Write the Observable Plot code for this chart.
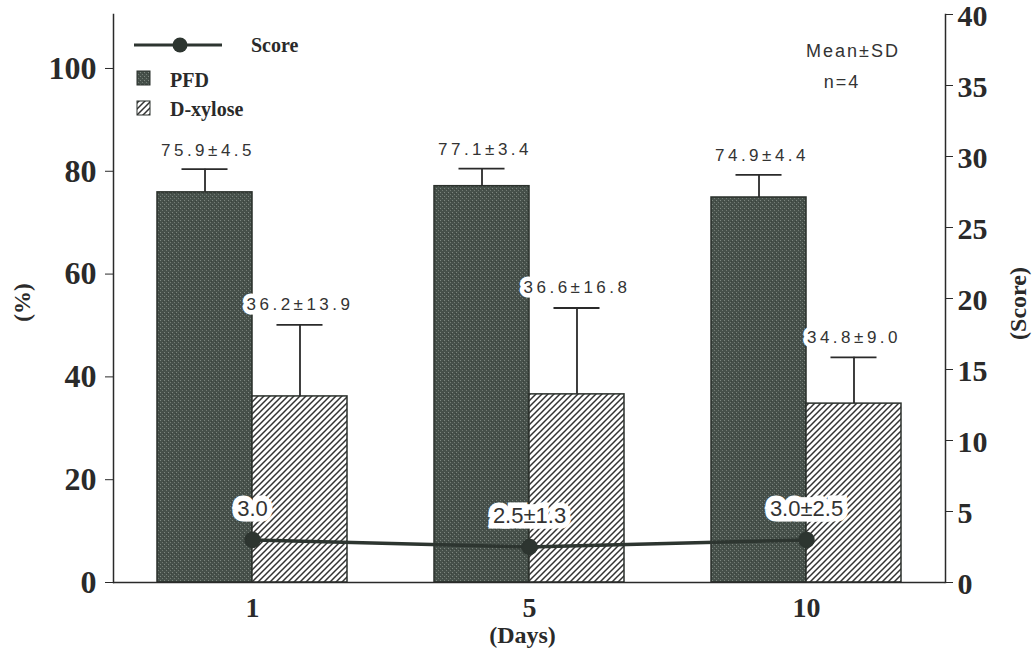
<!DOCTYPE html>
<html>
<head>
<meta charset="utf-8">
<script src="https://cdn.jsdelivr.net/npm/d3@7"></script>
<script src="https://cdn.jsdelivr.net/npm/@observablehq/plot@0.6"></script>
<style>
  html, body { margin: 0; padding: 0; background: #ffffff; }
  #chart svg { display: block; }
</style>
</head>
<body>
<div id="chart"></div>
<script>
// ---- data ----
const days = ["1", "5", "10"];
const pfdMean = [75.9, 77.1, 74.9];
const pfdSD = [4.5, 3.4, 4.4];
const xylMean = [36.2, 36.6, 34.8];
const xylSD = [13.9, 16.8, 9.0];
const scoreMean = [3.0, 2.5, 3.0];
const scoreLabels = ["3.0", "2.5±1.3", "3.0±2.5"];
const leftTicks = [0, 20, 40, 60, 80, 100];
const rightTicks = [0, 5, 10, 15, 20, 25, 30, 35, 40];
const leftMax = 110.5;   // top of the % axis
const rightMax = 40;     // top of the score axis

// ---- build tables ----
const pfd = days.map((d, i) => ({day: d, mean: pfdMean[i], sd: pfdSD[i]}));
const xyl = days.map((d, i) => ({day: d, mean: xylMean[i], sd: xylSD[i]}));
const score = days.map((d, i) => ({day: d, score: scoreMean[i], label: scoreLabels[i]}));
const k = leftMax / rightMax;
const rightTickPos = rightTicks.map(t => t * k);

const width = 1033, height = 658;
const mL = 113, mR = 88, mT = 14, mB = 76;
const padInner = 0.315;
const step = (width - mL - mR) / days.length;
const bw = step * (1 - padInner);
const half = bw / 2;
const q = half / 2;
const capInset = (bw - 46) / 2;

const ink = "#2a2a2a";
const serif = "Liberation Serif, Times New Roman, serif";
const labelSans = "Liberation Sans, Arial, sans-serif";
const scoreSans = "Arial, Liberation Sans, sans-serif";
const fmt = d => `${d.mean.toFixed(1)}±${d.sd.toFixed(1)}`;

const svg = Plot.plot({
  width, height,
  marginLeft: mL, marginRight: mR, marginTop: mT, marginBottom: mB,
  style: {background: "#ffffff", color: ink, overflow: "visible"},
  x: {domain: days, paddingInner: padInner, paddingOuter: padInner / 2},
  y: {domain: [0, leftMax]},
  marks: [
    Plot.barY(pfd, {x: "day", y: "mean", insetRight: half, fill: "url(#pfdPat)", stroke: "#2b312c", strokeWidth: 1.5}),
    Plot.barY(xyl, {x: "day", y: "mean", insetLeft: half, fill: "url(#hatchPat)", stroke: "#2b312c", strokeWidth: 1.5}),
    // error bars (upper only)
    Plot.ruleX(pfd, {x: "day", y1: "mean", y2: d => d.mean + d.sd, dx: -q, stroke: ink, strokeWidth: 1.8}),
    Plot.tickY(pfd, {x: "day", y: d => d.mean + d.sd, dx: -q, insetLeft: capInset, insetRight: capInset, stroke: ink, strokeWidth: 1.8}),
    Plot.ruleX(xyl, {x: "day", y1: "mean", y2: d => d.mean + d.sd, dx: q, stroke: ink, strokeWidth: 1.8}),
    Plot.tickY(xyl, {x: "day", y: d => d.mean + d.sd, dx: q, insetLeft: capInset, insetRight: capInset, stroke: ink, strokeWidth: 1.8}),
    // value labels
    Plot.text(pfd, {x: "day", y: d => d.mean + d.sd, text: fmt, dx: -q + 3, dy: -19, fontSize: 17, fontFamily: labelSans, fill: "#333", stroke: "white", strokeWidth: 9, paintOrder: "stroke"}),
    Plot.text(xyl, {x: "day", y: d => d.mean + d.sd, text: fmt, dx: q, dy: -20, fontSize: 17, fontFamily: labelSans, fill: "#333", stroke: "white", strokeWidth: 9, paintOrder: "stroke"}),
    // axis lines
    Plot.frame({anchor: "left", stroke: ink, strokeWidth: 1.5}),
    Plot.frame({anchor: "right", stroke: ink, strokeWidth: 1.5}),
    Plot.ruleY([0], {stroke: ink, strokeWidth: 1.5}),
    // score line (right axis)
    Plot.line(score, {x: "day", y: d => d.score * k, stroke: "#2d3530", strokeWidth: 3.5}),
    Plot.dot(score, {x: "day", y: d => d.score * k, r: 7.5, fill: "#2d3530", stroke: "#2d3530"}),
    Plot.text(score, {x: "day", y: d => d.score * k, text: "label", dy: -31, fontSize: 22, fontFamily: scoreSans, fill: "#333", stroke: "white", strokeWidth: 11, strokeLinejoin: "miter", paintOrder: "stroke"}),
    // axes
    Plot.axisY({anchor: "left", ticks: leftTicks, tickSize: 8, tickPadding: 9, fontSize: 32, fontWeight: "bold", fontFamily: serif, label: null, stroke: ink, fill: ink}),
    Plot.axisY({anchor: "right", ticks: rightTickPos, tickFormat: () => "", tickSize: 7, label: null, stroke: ink}),
    Plot.axisY({anchor: "right", ticks: rightTickPos, tickFormat: d => String(Math.round(d / k)), tickSize: 0, tickPadding: 12, dy: 2, fontSize: 30, fontWeight: "bold", fontFamily: serif, label: null, fill: ink}),
    Plot.axisX({ticks: days, tickSize: 0, tickPadding: 15, fontSize: 28, fontWeight: "bold", fontFamily: serif, label: null, fill: ink}),
    // axis titles
    Plot.text(["(%)"], {text: d => d, frameAnchor: "left", textAnchor: "middle", dx: -91, dy: 4, rotate: -90, fontSize: 23, fontWeight: "bold", fontFamily: serif, fill: ink}),
    Plot.text(["(Score)"], {text: d => d, frameAnchor: "right", textAnchor: "middle", dx: 73, dy: 5, rotate: -90, fontSize: 24, fontWeight: "bold", fontFamily: serif, fill: ink}),
    Plot.text(["(Days)"], {text: d => d, frameAnchor: "bottom", textAnchor: "middle", dx: -7, dy: 60, fontSize: 24, fontWeight: "bold", fontFamily: serif, fill: ink})
  ]
});

// ---- patterns ----
const s = d3.select(svg);
const defs = s.insert("defs", ":first-child");
const pp = defs.append("pattern").attr("id", "pfdPat").attr("patternUnits", "userSpaceOnUse").attr("width", 4).attr("height", 4);
pp.append("rect").attr("width", 4).attr("height", 4).attr("fill", "#46504a");
pp.append("rect").attr("x", 0).attr("y", 0).attr("width", 1).attr("height", 1).attr("fill", "#7d867f");
pp.append("rect").attr("x", 2).attr("y", 2).attr("width", 1).attr("height", 1).attr("fill", "#727b74");
pp.append("rect").attr("x", 3).attr("y", 1).attr("width", 1).attr("height", 1).attr("fill", "#3a423c");
const hp = defs.append("pattern").attr("id", "hatchPat").attr("patternUnits", "userSpaceOnUse").attr("width", 6).attr("height", 6);
hp.append("rect").attr("width", 6).attr("height", 6).attr("fill", "#ffffff");
hp.append("path").attr("d", "M-1,1 L1,-1 M0,6 L6,0 M5,7 L7,5").attr("stroke", "#333").attr("stroke-width", 1.5);

// letter spacing for the bar value labels
s.selectAll("g[font-family^='Liberation Sans'] text").attr("letter-spacing", "3.5px");

// ---- legend & annotation ----
const lg = s.append("g").attr("fill", ink).attr("font-family", serif).attr("font-weight", "bold").attr("font-size", 20).attr("text-anchor", "start");
lg.append("line").attr("x1", 134).attr("x2", 222).attr("y1", 45).attr("y2", 45).attr("stroke", "#2d3530").attr("stroke-width", 3);
lg.append("circle").attr("cx", 180).attr("cy", 45).attr("r", 7.5).attr("fill", "#2d3530");
lg.append("text").attr("x", 251).attr("y", 52).text("Score");
lg.append("rect").attr("x", 137).attr("y", 71).attr("width", 13).attr("height", 14).attr("fill", "url(#pfdPat)").attr("stroke", "#2b312c");
lg.append("text").attr("x", 170).attr("y", 87).text("PFD");
lg.append("rect").attr("x", 137).attr("y", 101).attr("width", 13).attr("height", 14).attr("fill", "url(#hatchPat)").attr("stroke", "#2b312c");
lg.append("text").attr("x", 170).attr("y", 116).text("D-xylose");

const an = s.append("g").attr("fill", "#333").attr("font-family", labelSans).attr("font-size", 18).attr("text-anchor", "middle").attr("letter-spacing", "2px");
an.append("text").attr("x", 853).attr("y", 57).text("Mean±SD");
an.append("text").attr("x", 842).attr("y", 88).text("n=4");

document.getElementById("chart").appendChild(svg);
</script>
</body>
</html>
